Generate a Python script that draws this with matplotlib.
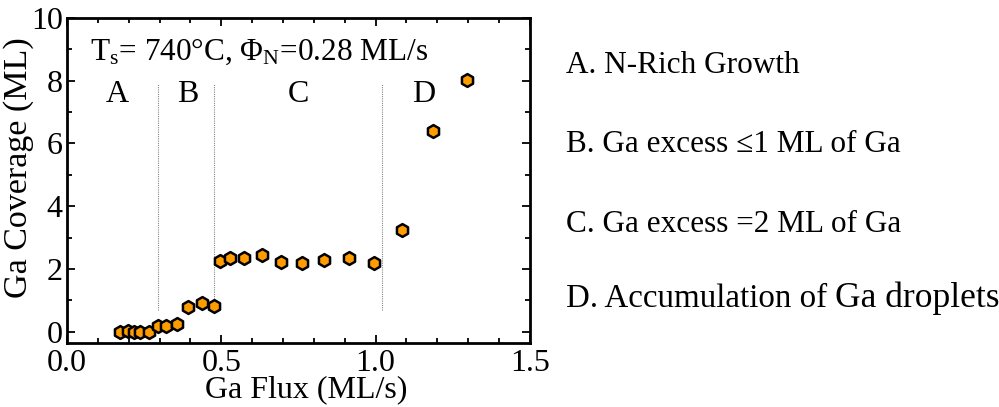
import matplotlib
matplotlib.use("Agg")
import matplotlib.pyplot as plt
from matplotlib.ticker import MultipleLocator

plt.rcParams['font.family'] = ['Liberation Serif', 'DejaVu Serif']
plt.rcParams['mathtext.fontset'] = 'custom'
plt.rcParams['mathtext.rm'] = 'Liberation Serif'
plt.rcParams['mathtext.it'] = 'Liberation Serif'

ga_flux = [0.172, 0.197, 0.217, 0.237, 0.267, 0.294, 0.321, 0.356,
           0.392, 0.436, 0.475, 0.497, 0.527, 0.575, 0.632, 0.693,
           0.762, 0.834, 0.913, 0.995, 1.087, 1.187, 1.295]
ga_coverage = [0.0, 0.03, 0.0, 0.0, 0.0, 0.18, 0.18, 0.25,
               0.80, 0.93, 0.83, 2.27, 2.35, 2.35, 2.44, 2.21,
               2.20, 2.28, 2.34, 2.20, 3.25, 6.39, 8.02]
region_bounds = [0.294, 0.478, 1.022]
region_labels = ['A', 'B', 'C', 'D']
region_label_x = [0.163, 0.393, 0.75, 1.156]
legend_lines = ['A. N-Rich Growth', 'B. Ga excess \u22641 ML of Ga',
                'C. Ga excess =2 ML of Ga', 'D. Accumulation of ']

fig = plt.figure(figsize=(9.99, 4.07), dpi=100)
ax = fig.add_axes([0.067, 0.157, 0.4635, 0.799])

for xb in region_bounds:
    ax.plot([xb, xb], [0.7, 7.9], color='#888888', lw=0.8, ls=(0, (1, 1)), zorder=1)

ax.scatter(ga_flux, ga_coverage, s=85, marker='h', facecolor='#FF9C00',
           edgecolor='black', linewidths=1.8, zorder=3)

for lx, lab in zip(region_label_x, region_labels):
    ax.text(lx, 7.55, lab, fontsize=23, ha='center', va='center')

ax.text(0.075, 8.68, r'T$_\mathrm{s}$= 740°C, $\Phi_\mathrm{N}$=0.28 ML/s',
        fontsize=22.5, ha='left', va='baseline')

ax.set_xlim(0, 1.5)
ax.set_ylim(-0.36, 10)
ax.xaxis.set_major_locator(MultipleLocator(0.5))
ax.xaxis.set_minor_locator(MultipleLocator(0.1))
ax.yaxis.set_major_locator(MultipleLocator(2))
ax.yaxis.set_minor_locator(MultipleLocator(1))
ax.xaxis.set_major_formatter(plt.FormatStrFormatter('%.1f'))
ax.tick_params(which='both', direction='in', top=True, right=True, labelsize=23, width=1.3)
ax.tick_params(which='major', length=6)
ax.tick_params(which='minor', length=3.5)
ax.tick_params(axis='x', pad=4)
ax.tick_params(axis='y', pad=3)
for sp in ax.spines.values():
    sp.set_linewidth(2)

ax.set_xlabel('Ga Flux (ML/s)', fontsize=23)
ax.set_ylabel('Ga Coverage (ML)', fontsize=24.5)
ax.xaxis.set_label_coords(0.516, -0.1, transform=ax.transAxes)
ax.xaxis.label.set_va('top')
ax.yaxis.set_label_coords(-0.072, 0.54, transform=ax.transAxes)

ys = [0.8206, 0.6265, 0.430, 0.2457]
sizes = [22.5, 22.5, 22.5, 23.8]
for y, t, fs in zip(ys, legend_lines, sizes):
    fig.text(0.5665, y, t, fontsize=fs, ha='left', va='baseline')
fig.canvas.draw()
t = fig.texts[-1]
bb = t.get_window_extent()
fig.text(bb.x1 / fig.bbox.width, ys[3], 'Ga droplets', fontsize=25.5, ha='left', va='baseline')

fig.savefig('out.png', dpi=100)
